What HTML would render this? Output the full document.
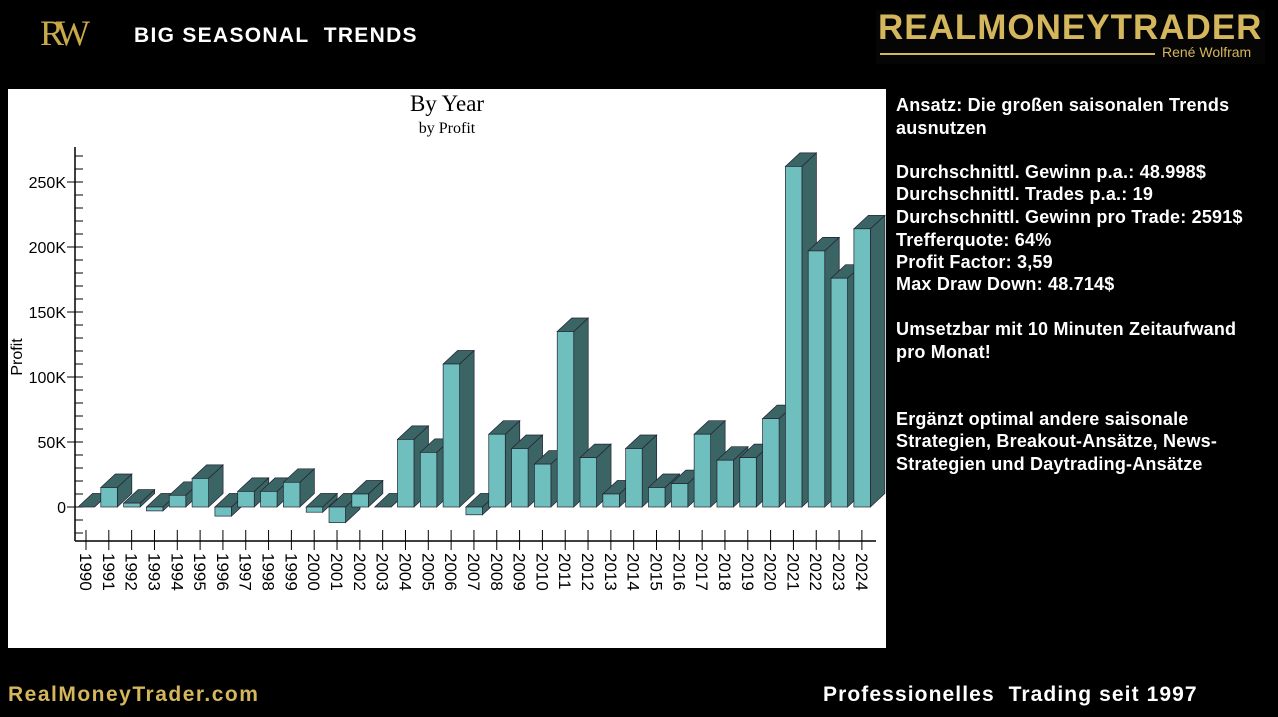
<!DOCTYPE html>
<html><head><meta charset="utf-8"><style>
body{margin:0;width:1278px;height:717px;background:#000;overflow:hidden;position:relative;font-family:"Liberation Sans",sans-serif}
.t{position:absolute;color:#fff;font-weight:bold;white-space:nowrap}
.r{left:896px;font-size:18px;letter-spacing:0.2px}
</style></head><body>
<div class="t" style="left:40px;top:12px;font-size:36px;color:#c9a94a;font-family:'Liberation Serif',serif;font-weight:normal;letter-spacing:-6px">RW</div>
<div class="t" style="left:134px;top:24px;font-size:21px;letter-spacing:1.3px">BIG SEASONAL&nbsp; TRENDS</div>
<div style="position:absolute;left:876px;top:10px;width:389px;height:54px;background:#050505"></div>
<div class="t" style="left:878px;top:8px;font-size:35px;color:#d4b65c;letter-spacing:1px">REALMONEYTRADER</div>
<div style="position:absolute;left:880px;top:53px;width:275px;height:2px;background:#d4b65c"></div>
<div class="t" style="left:1162px;top:44px;font-size:14px;color:#d4b65c;font-weight:normal">René Wolfram</div>
<div style="position:absolute;left:8px;top:89px;width:878px;height:559px;background:#fff"></div>
<svg style="position:absolute;left:0;top:0" width="1278" height="717" id="s"></svg>
<div class="t r" style="top:95px">Ansatz: Die großen saisonalen Trends</div>
<div class="t r" style="top:118px">ausnutzen</div>
<div class="t r" style="top:162px">Durchschnittl. Gewinn p.a.: 48.998$</div>
<div class="t r" style="top:184px">Durchschnittl. Trades p.a.: 19</div>
<div class="t r" style="top:207px">Durchschnittl. Gewinn pro Trade: 2591$</div>
<div class="t r" style="top:230px">Trefferquote: 64%</div>
<div class="t r" style="top:252px">Profit Factor: 3,59</div>
<div class="t r" style="top:274px">Max Draw Down: 48.714$</div>
<div class="t r" style="top:319px">Umsetzbar mit 10 Minuten Zeitaufwand</div>
<div class="t r" style="top:342px">pro Monat!</div>
<div class="t r" style="top:409px">Ergänzt optimal andere saisonale</div>
<div class="t r" style="top:431px">Strategien, Breakout-Ansätze, News-</div>
<div class="t r" style="top:454px">Strategien und Daytrading-Ansätze</div>
<div class="t" style="left:8px;top:683px;font-size:21px;color:#d4b65c;letter-spacing:1.5px">RealMoneyTrader.com</div>
<div class="t" style="left:823px;top:683px;font-size:21px;letter-spacing:1.1px">Professionelles&nbsp; Trading seit 1997</div>
<script>
var v=[0,15,3,-3,9,22,-7,12,12,19,-4,-12,10,0,52,42,110,-6,56,45,33,135,38,10,45,15,18,56,36,38,68,262,197,176,214];
var y0=507,k=1.3,s='';
s+='<text x="447" y="111" font-family="Liberation Serif,serif" font-size="23" text-anchor="middle">By Year</text>';
s+='<text x="447" y="133" font-family="Liberation Serif,serif" font-size="16" text-anchor="middle">by Profit</text>';
s+='<line x1="75" y1="147" x2="75" y2="541" stroke="#000" stroke-width="1.5"/><line x1="75" y1="541" x2="876" y2="541" stroke="#000" stroke-width="1.5"/>';
for(var i=-2;i<=30;i++){var y=y0-i*13;if(y<147)break;var big=i%5==0;s+='<line x1="'+(big?67:75)+'" y1="'+y+'" x2="83" y2="'+y+'" stroke="#000"/>';if(big)s+='<text x="66" y="'+(y+6)+'" font-family="Liberation Sans" font-size="16" text-anchor="end">'+(i==0?'0':i*10+'K')+'</text>';}
s+='<text transform="translate(22,357) rotate(-90)" font-family="Liberation Sans" font-size="16" text-anchor="middle">Profit</text>';
var dx=14.5,dy=13.5;
v.forEach(function(val,j){var c=86+j*22.82,x=c-8,w=16.5;var yv=y0-val*k;var top=Math.min(y0,yv),bot=Math.max(y0,yv);
s+='<line x1="'+c+'" y1="530" x2="'+c+'" y2="550" stroke="#000"/>';
s+='<polygon points="'+(x+w)+','+bot+' '+(x+w+dx)+','+(bot-dy)+' '+(x+w+dx)+','+(top-dy)+' '+(x+w)+','+top+'" fill="#3b6464" stroke="#223" stroke-width="0.7"/>';
s+='<polygon points="'+x+','+top+' '+(x+dx)+','+(top-dy)+' '+(x+w+dx)+','+(top-dy)+' '+(x+w)+','+top+'" fill="#3b6464" stroke="#223" stroke-width="0.7"/>';
s+='<rect x="'+x+'" y="'+top+'" width="'+w+'" height="'+(bot-top)+'" fill="#6fbfbf" stroke="#223" stroke-width="0.7"/>';
s+='<text transform="translate('+(c-6)+',553) rotate(90)" font-family="Liberation Sans" font-size="17">'+(1990+j)+'</text>';});
document.getElementById('s').innerHTML=s;
</script>
</body></html>
